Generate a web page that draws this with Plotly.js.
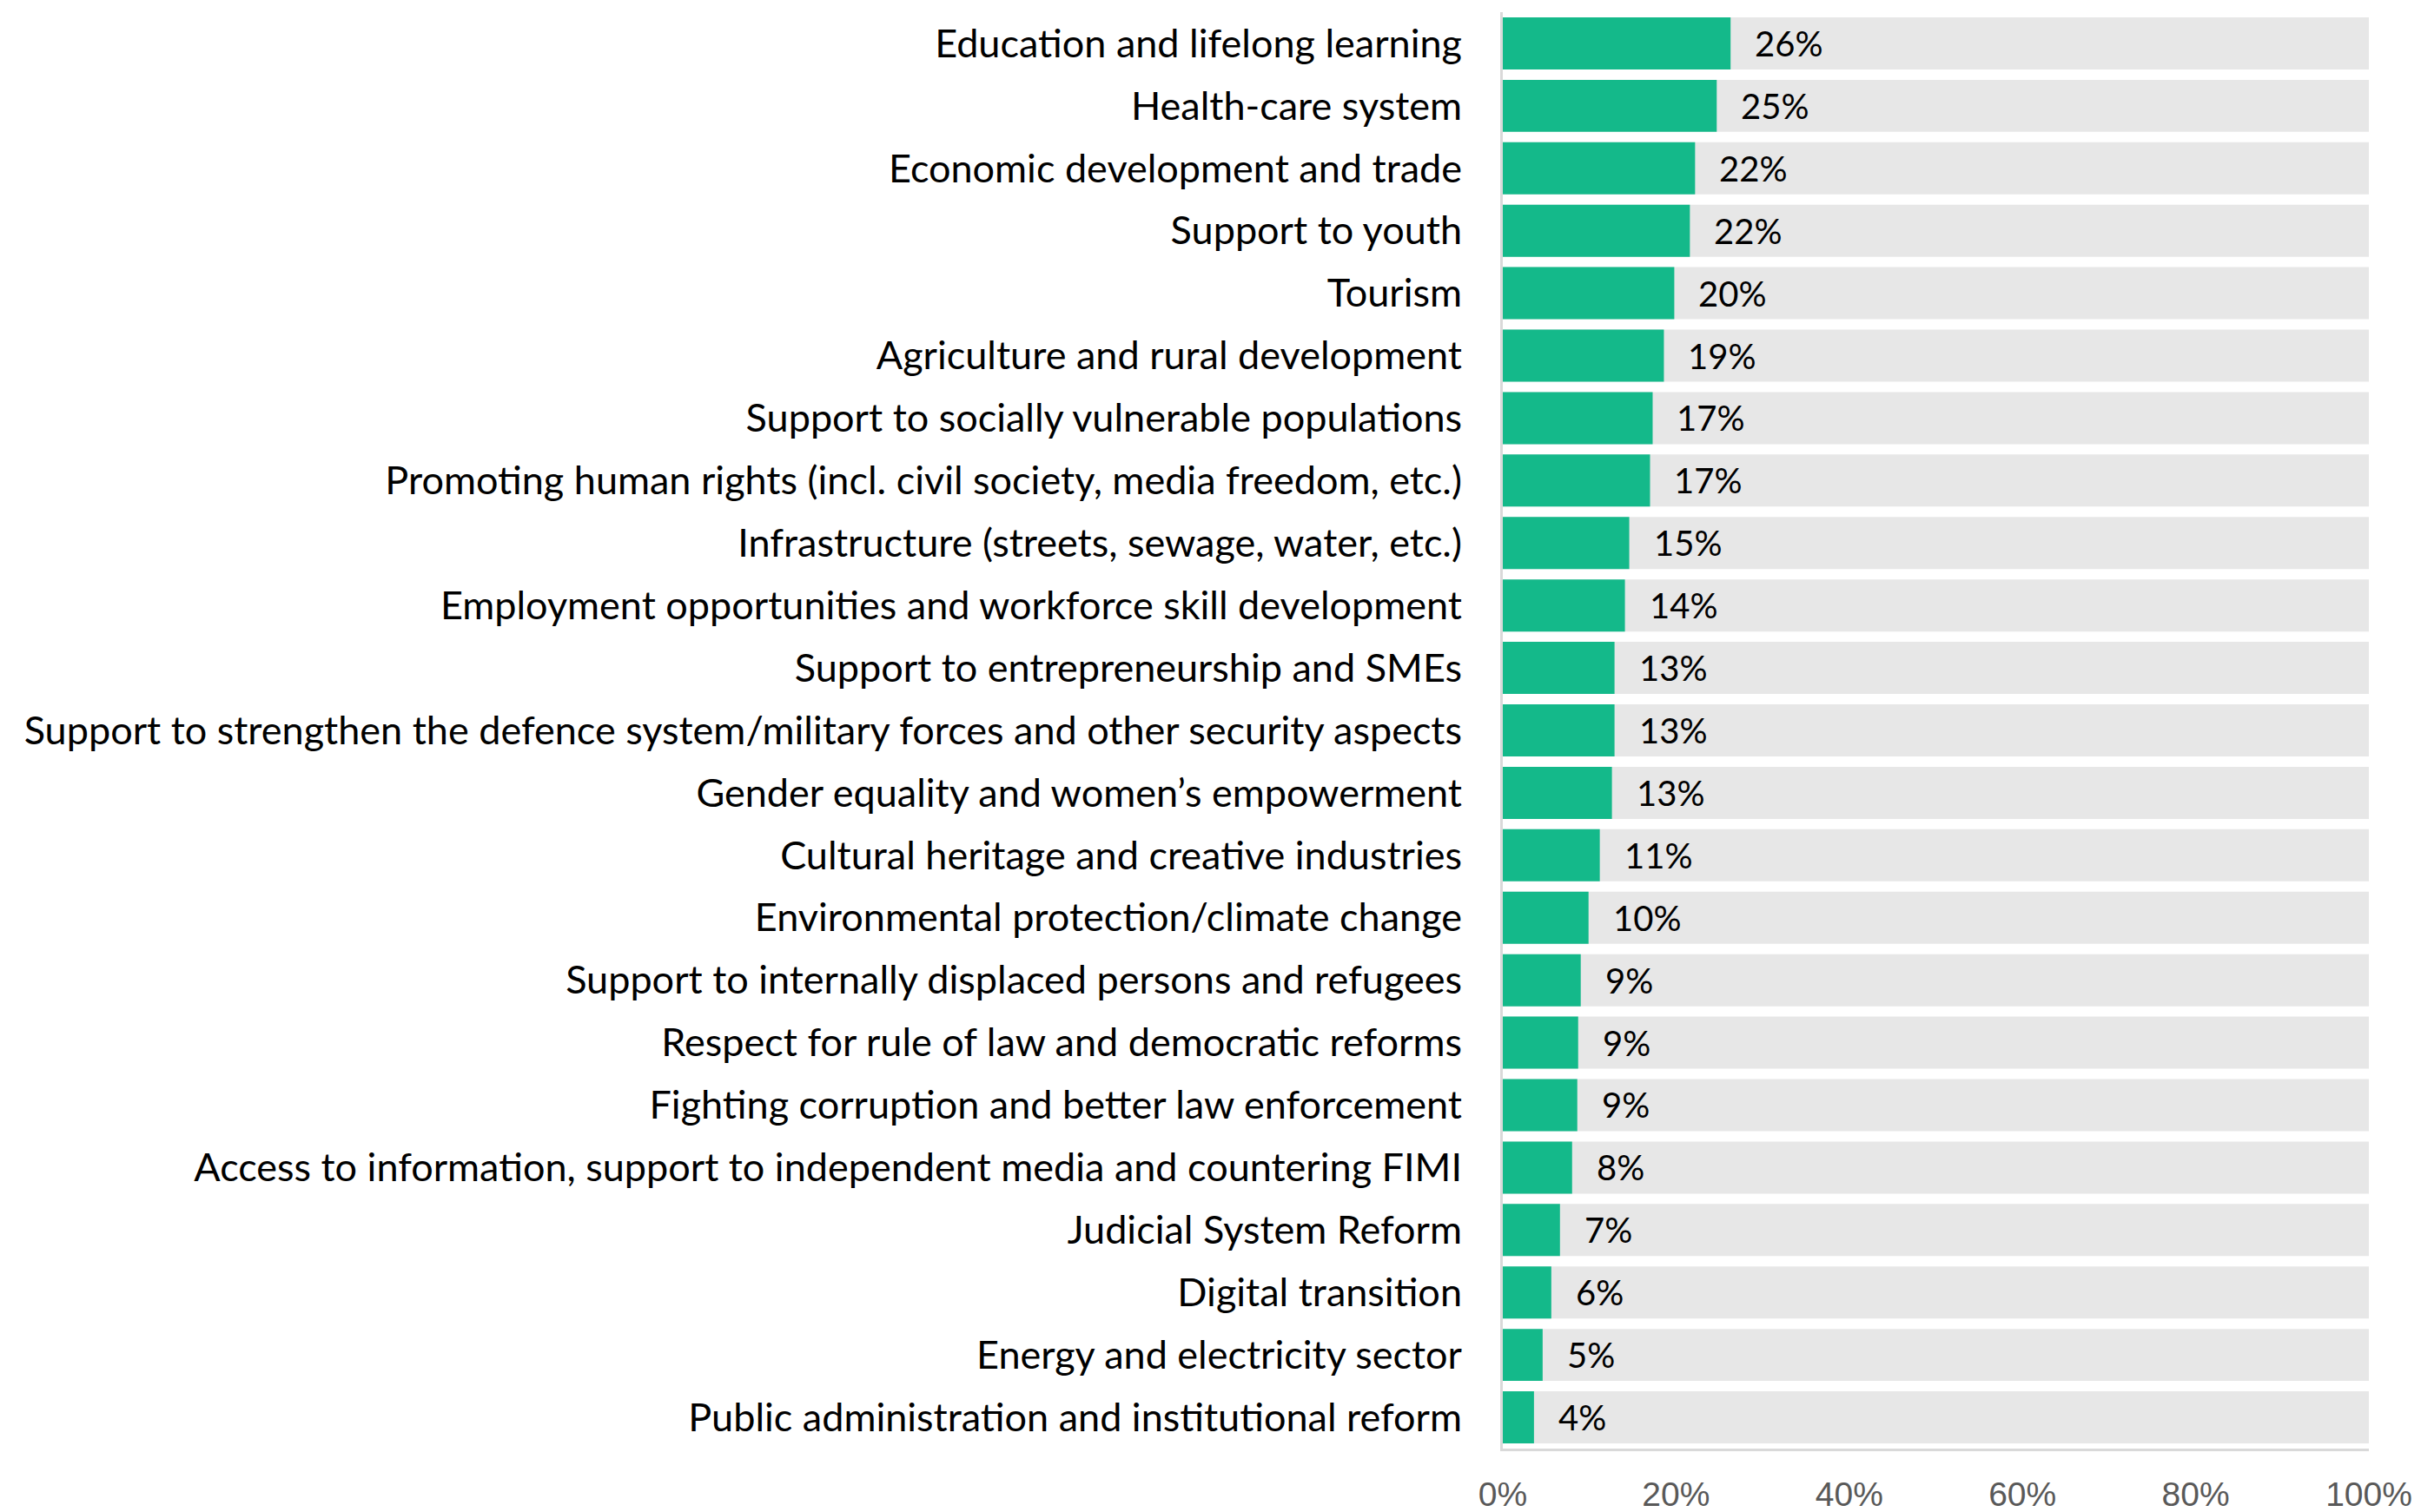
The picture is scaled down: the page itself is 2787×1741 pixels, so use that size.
<!DOCTYPE html>
<html>
<head>
<meta charset="utf-8">
<script src="https://cdn.plot.ly/plotly-3.0.1.min.js"></script>
<style>
  html, body { margin: 0; padding: 0; background: #ffffff; }
  #chart { width: 2787px; height: 1741px; }
</style>
</head>
<body>
<div id="chart"></div>
<script>
// ---- Data ----
const categories = [
  "Education and lifelong learning",
  "Health-care system",
  "Economic development and trade",
  "Support to youth",
  "Tourism",
  "Agriculture and rural development",
  "Support to socially vulnerable populations",
  "Promoting human rights (incl. civil society, media freedom, etc.)",
  "Infrastructure (streets, sewage, water, etc.)",
  "Employment opportunities and workforce skill development",
  "Support to entrepreneurship and SMEs",
  "Support to strengthen the defence system/military forces and other security aspects",
  "Gender equality and women\u2019s empowerment",
  "Cultural heritage and creative industries",
  "Environmental protection/climate change",
  "Support to internally displaced persons and refugees",
  "Respect for rule of law and democratic reforms",
  "Fighting corruption and better law enforcement",
  "Access to information, support to independent media and countering FIMI",
  "Judicial System Reform",
  "Digital transition",
  "Energy and electricity sector",
  "Public administration and institutional reform"
];

const shares = [26.3, 24.7, 22.2, 21.6, 19.8, 18.6, 17.3, 17.0, 14.6, 14.1, 12.9, 12.9, 12.6, 11.2, 9.9, 9.0, 8.7, 8.6, 8.0, 6.6, 5.6, 4.6, 3.6];

const fullScale = 100;
const tickValues = [0, 20, 40, 60, 80, 100];
const tickLabels = ["0%", "20%", "40%", "60%", "80%", "100%"];

// ---- Styles ----
const GREEN = "#14b98a";
const TRACK = "#e7e7e7";
const AXIS = "#d9d9d9";
const LABEL_FONT = "Lato, 'Open Sans', sans-serif";

const background = {
  type: "bar",
  orientation: "h",
  y: categories,
  x: categories.map(() => fullScale),
  marker: { color: TRACK, line: { width: 0 } },
  hoverinfo: "skip",
  showlegend: false
};

const values = {
  type: "bar",
  orientation: "h",
  y: categories,
  x: shares,
  marker: { color: GREEN, line: { width: 0 } },
  hovertemplate: "%{y}: %{x:.0f}%<extra></extra>",
  showlegend: false
};

const annotations = categories.map((c, i) => ({
  x: shares[i],
  y: c,
  xref: "x",
  yref: "y",
  text: Math.round(shares[i]) + "%",
  showarrow: false,
  xanchor: "left",
  yanchor: "middle",
  xshift: 26,
  font: { family: LABEL_FONT, size: 40, color: "#000000" }
}));

const layout = {
  width: 2787,
  height: 1741,
  margin: { l: 1730, r: 60, t: 14, b: 73, pad: 0 },
  paper_bgcolor: "#ffffff",
  plot_bgcolor: "#ffffff",
  barmode: "overlay",
  bargap: 0.166,
  showlegend: false,
  xaxis: {
    range: [0, fullScale],
    tickvals: tickValues,
    ticktext: tickLabels,
    ticks: "",
    showgrid: false,
    zeroline: false,
    showline: true,
    linecolor: AXIS,
    linewidth: 3,
    layer: "below traces",
    ticklabelstandoff: 16,
    tickfont: { family: "'Liberation Sans', Arial, sans-serif", size: 39, color: "#595959" },
    fixedrange: true
  },
  yaxis: {
    autorange: "reversed",
    type: "category",
    ticks: "",
    showgrid: false,
    zeroline: false,
    showline: true,
    linecolor: AXIS,
    linewidth: 3,
    layer: "below traces",
    ticklabelstandoff: 35,
    tickfont: { family: LABEL_FONT, size: 45, color: "#000000" },
    fixedrange: true
  },
  annotations: annotations
};

Plotly.newPlot("chart", [background, values], layout, { displayModeBar: false, staticPlot: true });
</script>
</body>
</html>
